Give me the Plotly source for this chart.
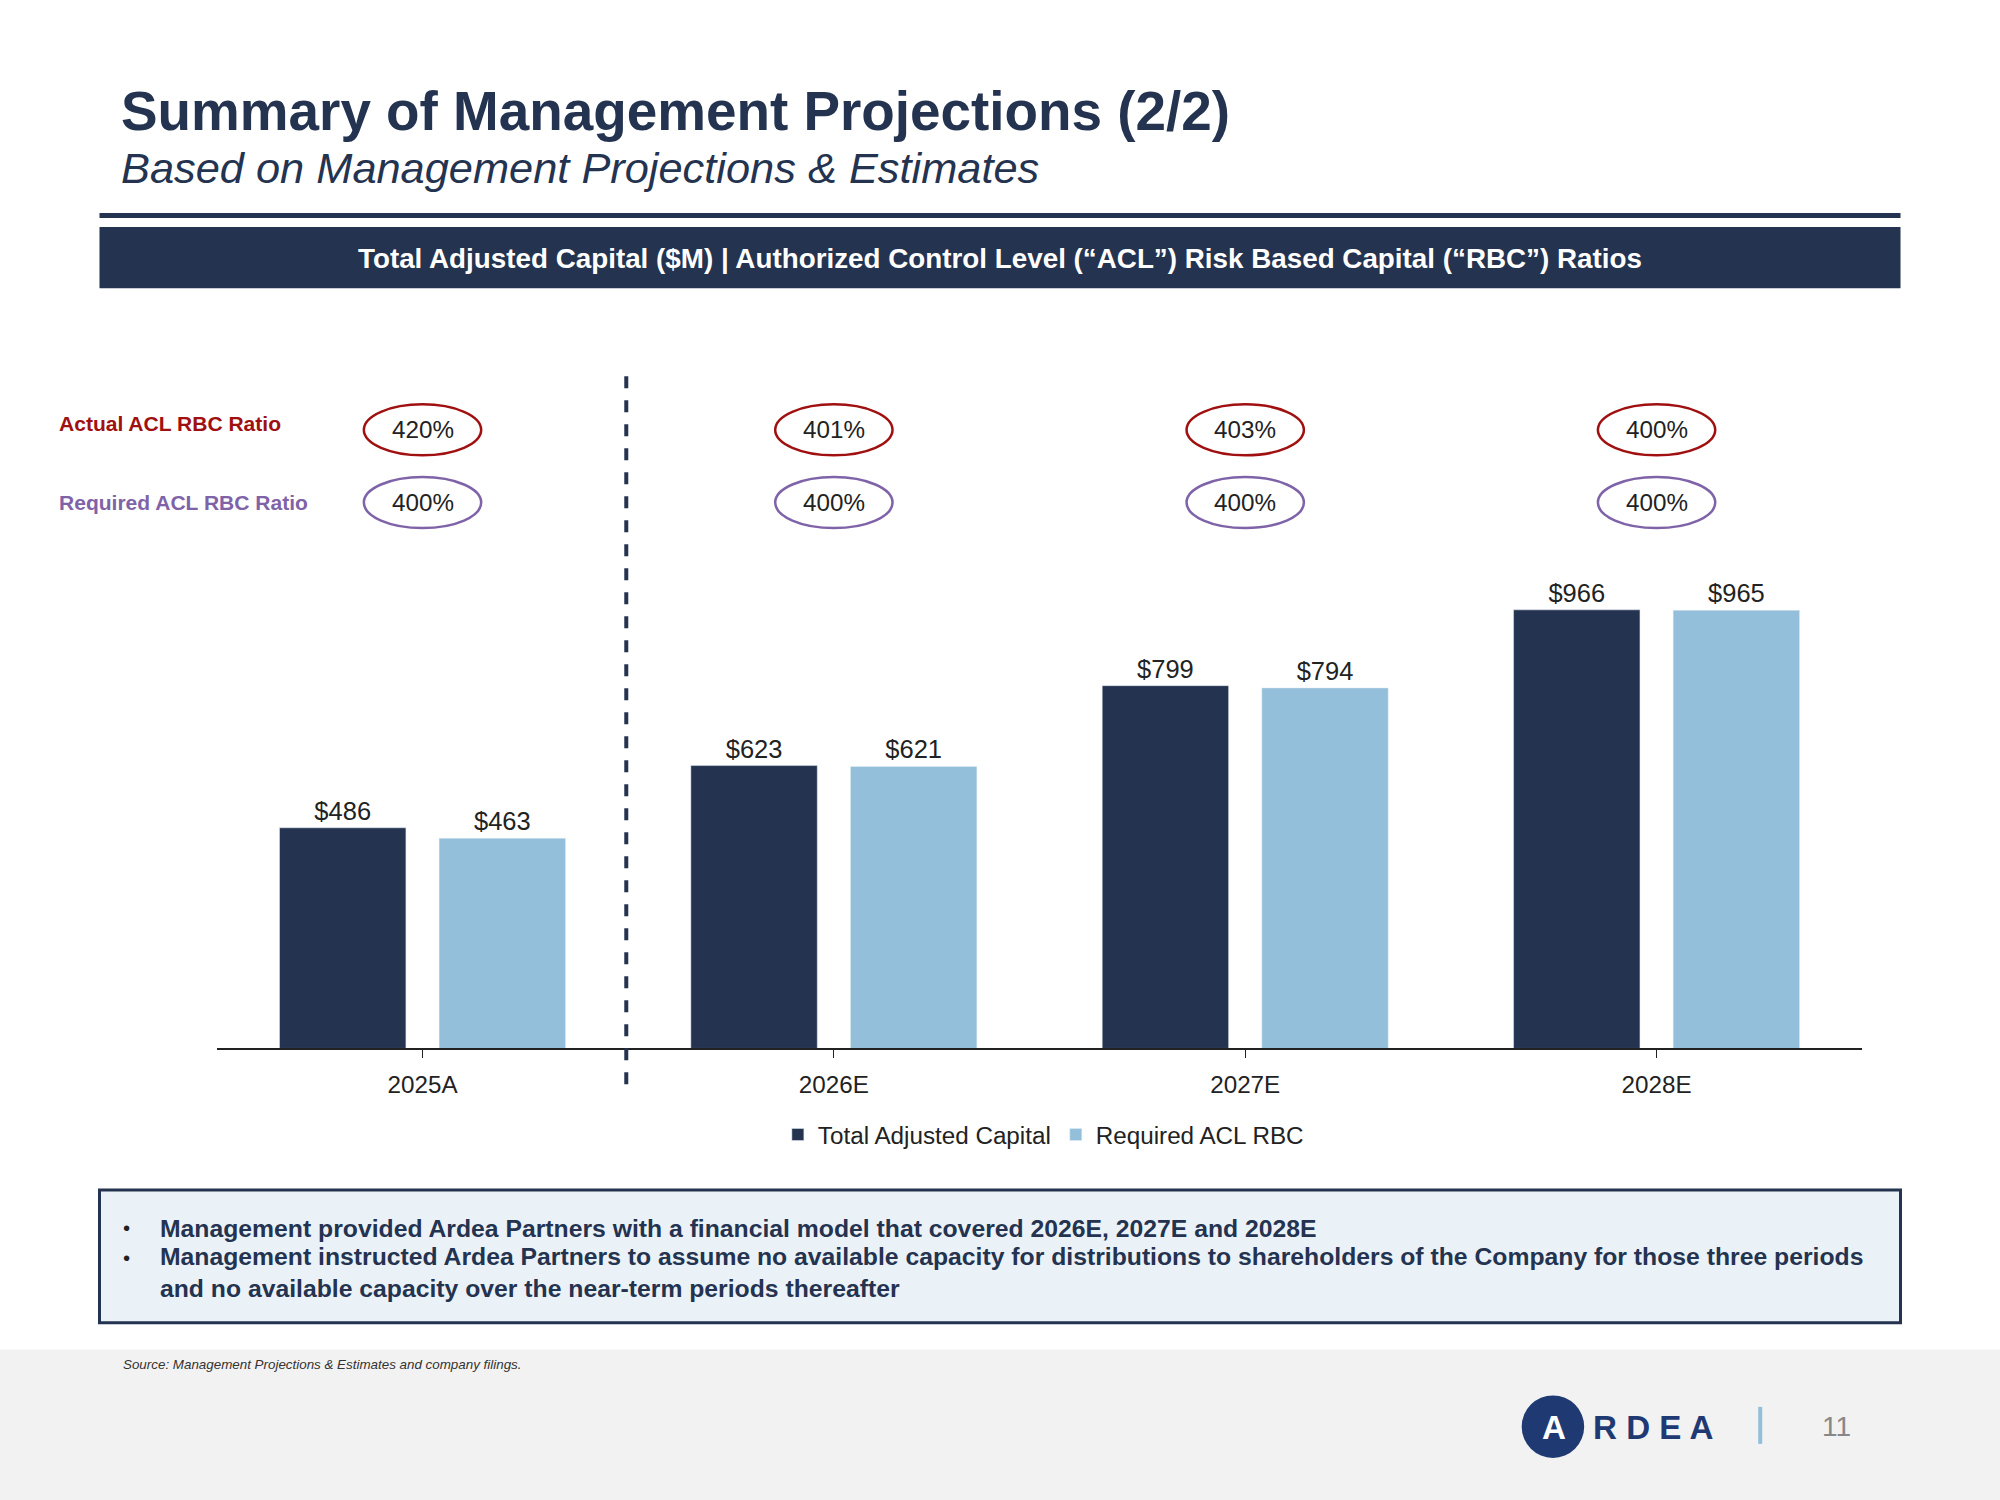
import plotly.graph_objects as go

categories = ["2025A", "2026E", "2027E", "2028E"]
total_adjusted_capital = [486, 623, 799, 966]
required_acl_rbc = [463, 621, 794, 965]
actual_ratio = ["420%", "401%", "403%", "400%"]
required_ratio = ["400%", "400%", "400%", "400%"]

NAVY = "#243350"
LIGHT = "#93BFDA"
RED = "#A01010"
PURPLE = "#7F63A8"
W0, H0 = 1568, 1176
S = 2000 / W0
FW, FH = 2000, 1500

def px(x): return (x * S) / FW
def py(y): return 1 - (y * S) / FH

fig = go.Figure()
fig.add_bar(x=categories, y=total_adjusted_capital, name="Total Adjusted Capital", marker_color=NAVY,
            text=[f"${v}" for v in total_adjusted_capital], textposition="outside",
            textfont=dict(size=20 * S, color="#222", family="Arial"), cliponaxis=False)
fig.add_bar(x=categories, y=required_acl_rbc, name="Required ACL RBC", marker_color=LIGHT,
            text=[f"${v}" for v in required_acl_rbc], textposition="outside",
            textfont=dict(size=20 * S, color="#222", family="Arial"), cliponaxis=False)

fig.update_layout(
    width=FW, height=FH, margin=dict(l=0, r=0, t=0, b=0),
    paper_bgcolor="white", plot_bgcolor="white",
    barmode="group", bargap=0.224, bargroupgap=0.208,
    font=dict(family="Arial", color="#222"),
    xaxis=dict(domain=[px(170), px(1460)], showline=True, linecolor="#222", linewidth=1.5,
               ticks="outside", ticklen=8, tickcolor="#222", showgrid=False,
               tickfont=dict(size=19 * S, color="#222"), ticklabelstandoff=6),
    yaxis=dict(domain=[py(822), py(466)], range=[0, 1000], visible=False),
    legend=dict(orientation="h", x=px(818), y=py(872), xanchor="center", yanchor="top",
                font=dict(size=19 * S, color="#222"), itemwidth=30),
)

shapes = []
ann = []
shapes.append(dict(type="rect", xref="paper", yref="paper", x0=0, x1=1, y0=0, y1=py(1058),
                   fillcolor="#F2F2F2", line_width=0, layer="below"))
shapes.append(dict(type="line", xref="paper", yref="paper", x0=px(78), x1=px(1490), y0=py(169), y1=py(169),
                   line=dict(color=NAVY, width=5)))
shapes.append(dict(type="rect", xref="paper", yref="paper", x0=px(78), x1=px(1490), y0=py(226), y1=py(178),
                   fillcolor=NAVY, line_width=0))
shapes.append(dict(type="line", xref="paper", yref="paper", x0=px(491), x1=px(491), y0=py(295), y1=py(858),
                   line=dict(color=NAVY, width=4, dash="dash")))
shapes.append(dict(type="rect", xref="paper", yref="paper", x0=px(78), x1=px(1490), y0=py(1037), y1=py(933),
                   fillcolor="#EBF2F7", line=dict(color=NAVY, width=3)))
shapes.append(dict(type="circle", xref="paper", yref="paper", x0=px(1193), x1=px(1242), y0=py(1143), y1=py(1094),
                   fillcolor="#1F3A73", line_width=0))
shapes.append(dict(type="line", xref="paper", yref="paper", x0=px(1380), x1=px(1380), y0=py(1132), y1=py(1103),
                   line=dict(color=LIGHT, width=4)))

for i, c in enumerate(categories):
    cx = 170 + (i + 0.5) * (1290 / 4)
    for yy, col, lab in [(337, RED, actual_ratio[i]), (394, PURPLE, required_ratio[i])]:
        shapes.append(dict(type="circle", xref="paper", yref="paper", x0=px(cx - 46), x1=px(cx + 46),
                           y0=py(yy + 20), y1=py(yy - 20), line=dict(color=col, width=2.5)))
        ann.append(dict(x=px(cx), y=py(yy), xref="paper", yref="paper", text=lab, showarrow=False,
                        xanchor="center", yanchor="middle", font=dict(size=19 * S, color="#222")))

def t(x, y, text, size, color, xa="left"):
    ann.append(dict(x=px(x), y=py(y), xref="paper", yref="paper", text=text, showarrow=False,
                    xanchor=xa, yanchor="middle", font=dict(size=size * S, color=color, family="Arial"),
                    align="left"))

t(93, 87, "<b>Summary of Management Projections (2/2)</b>", 43, NAVY)
t(93, 132, "<i>Based on Management Projections & Estimates</i>", 34, NAVY)
t(784, 203, "<b>Total Adjusted Capital ($M) | Authorized Control Level (“ACL”) Risk Based Capital (“RBC”) Ratios</b>",
  21.8, "white", xa="center")
t(45, 332, "<b>Actual ACL RBC Ratio</b>", 16.5, RED)
t(45, 394, "<b>Required ACL RBC Ratio</b>", 16.5, PURPLE)
t(95, 963, "•", 16, "#222")
t(95, 986, "•", 16, "#222")
t(124, 963, "<b>Management provided Ardea Partners with a financial model that covered 2026E, 2027E and 2028E</b>", 19.4, NAVY)
t(124, 998, "<b>Management instructed Ardea Partners to assume no available capacity for distributions to shareholders of the Company for those three periods<br>and no available capacity over the near-term periods thereafter</b>", 19.4, NAVY)
t(95, 1070, "<i>Source: Management Projections & Estimates and company filings.</i>", 10.5, "#333")
t(1218, 1119, "<b>A</b>", 26, "white", xa="center")
t(1247, 1119, "<b>R D E A</b>", 26, "#1F3A73")
t(1440, 1118, "11", 22, "#888", xa="center")

fig.update_layout(shapes=shapes, annotations=ann)
fig.write_html("out.html", config={"displayModeBar": False},
               post_script="document.body.style.margin='0';document.body.style.overflow='hidden';")
